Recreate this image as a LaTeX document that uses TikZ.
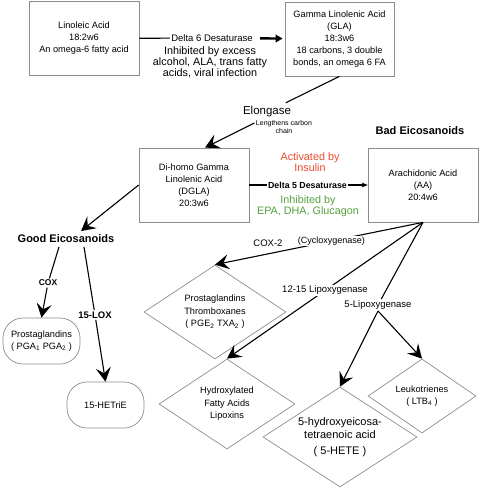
\documentclass[tikz,border=0pt]{standalone}
\usepackage{fontspec}
\setmainfont{Liberation Sans}
\usepackage{tikz}
\usetikzlibrary{arrows.meta}
\usetikzlibrary{shapes,positioning}
\definecolor{actred}{RGB}{234,74,42}
\definecolor{inhgreen}{RGB}{86,160,62}
\tikzset{>={Stealth[length=14pt,width=15pt,inset=5.5pt]},
  acid/.style={draw=black!45,line width=0.7pt,minimum width=110pt,minimum height=74pt,align=center,font=\fontsize{9.2}{12}\selectfont},
  eico/.style={draw=black!45,line width=0.7pt,rounded corners=20pt,minimum width=77pt,minimum height=46pt,align=center,font=\fontsize{9.2}{12}\selectfont},
  prod/.style={diamond,draw=black!45,line width=0.7pt,inner sep=0pt},
  prodtext/.style={align=center,font=\fontsize{9.2}{12.5}\selectfont},
  enz/.style={inner sep=1pt,font=\fontsize{9.5}{11}\selectfont},
  enzb/.style={inner sep=1pt,font=\bfseries\fontsize{8.8}{10}\selectfont},
  note/.style={align=center,font=\fontsize{10.8}{11.2}\selectfont}}

\begin{document}
\begin{tikzpicture}[x=1pt,y=-1pt,line width=1.1pt]
  \useasboundingbox (0,0) rectangle (480,489);
  \node [acid] (la) at (84,38.5) {Linoleic Acid\\18:2w6\\An omega-6 fatty acid};
  \node [acid,minimum width=109pt] (gla) at (339.5,39) {Gamma Linolenic Acid\\(GLA)\\18:3w6\\18 carbons, 3 double\\bonds, an omega 6 FA};
  \node [acid] (dgla) at (194,185) {Di-homo Gamma\\Linolenic Acid\\(DGLA)\\20:3w6};
  \node [acid] (aa) at (423,185) {Arachidonic Acid\\(AA)\\20:4w6};

  \node [enz] (d6) at (212,38) {Delta 6 Desaturase};
  \node [note] (inh6) at (210,62) {Inhibited by excess\\alcohol, ALA, trans fatty\\acids, viral infection};
  \draw (la) -- (d6);
  \draw [line width=2.4pt,-{Triangle[length=7pt,width=7.5pt]},shorten <=6pt,shorten >=2pt] (d6) -- (gla);

  \node [font=\fontsize{11.5}{12}\selectfont] (elo) at (267,112) {Elongase};
  \node [align=center,font=\fontsize{7}{8}\selectfont,inner sep=1pt] (len) at (284,127) {Lengthens carbon\\chain};
  \draw (gla.south) -- (elo);
  \draw [->] ([yshift=4pt]len.west) -- ([xshift=11pt]dgla.north);

  \node [enzb] (d5) at (307.5,185) {Delta 5 Desaturase};
  \node [note,text=actred] (act) at (310,162.5) {Activated by\\Insulin};
  \node [note,text=inhgreen] (inh5) at (308,206) {Inhibited by\\EPA, DHA, Glucagon};
  \draw (dgla) -- (d5);
  \draw [-{Stealth[length=6pt,width=5pt]}] (d5) -- (aa);

  \node [font=\bfseries\fontsize{11}{12}\selectfont] (bad) at (420,131) {Bad Eicosanoids};
  \node [font=\bfseries\fontsize{11}{12}\selectfont] (good) at (66,239) {Good Eicosanoids};
  \draw [->] (dgla.west) -- ([xshift=15pt]good.north);

  \node [eico] (pga) at (41.5,341) {Prostaglandins\\( PGA\textsubscript{1} PGA\textsubscript{2} )};
  \node [eico] (hetr) at (105.5,405) {15-HETriE};
  \node [enzb,font=\bfseries\fontsize{8.5}{9}\selectfont] (cox) at (48,283) {COX};
  \node [enzb,font=\bfseries\fontsize{9.5}{10}\selectfont] (lox) at (95,315) {15-LOX};
  \draw ([xshift=-7pt]good.south) -- (cox);
  \draw [->] (cox) -- (pga.north);
  \draw ([xshift=18pt]good.south) -- (lox);
  \draw [->] (lox) -- (hetr.north);

  \node [prod,minimum width=142pt,minimum height=94pt] (pgt) at (215,312) {};
  \node [prodtext] (pgttext) at (pgt.center) {Prostaglandins\\Thromboxanes\\( PGE\textsubscript{2} TXA\textsubscript{2} )};
  \node [prod,minimum width=136pt,minimum height=90pt] (hfa) at (227,404) {};
  \node [prodtext] (hfatext) at (hfa.center) {Hydroxylated\\Fatty Acids\\Lipoxins};
  \node [prod,minimum width=154pt,minimum height=100pt] (hete) at (340,437) {};
  \node [prodtext,font=\fontsize{11}{13}\selectfont] (hetetext) at (hete.center) {5-hydroxyeicosa-\\tetraenoic acid\\[3pt]( 5-HETE )};
  \node [prod,minimum width=108pt,minimum height=74pt] (ltb) at (422,396) {};
  \node [prodtext] (ltbtext) at (ltb.center) {Leukotrienes\\( LTB\textsubscript{4} )};

  \node [enz] (cox2) at (268,243) {COX-2};
  \draw [->] (aa.south) -- node [enz,fill=white,pos=0.44,font=\fontsize{9}{10}\selectfont] (cyc) {(Cycloxygenase)} (pgt.north);
  \draw [->] (aa.south) -- node [enz,fill=white,pos=0.5] (lipo) {12-15 Lipoxygenase} (hfa.north);
  \node [enz] (lipo5) at (378,305) {5-Lipoxygenase};
  \draw (aa.south) -- (lipo5);
  \draw [->] (lipo5.south) -- (hete.north);
  \draw [->] (lipo5.south) -- (ltb.north);
\end{tikzpicture}
\end{document}
